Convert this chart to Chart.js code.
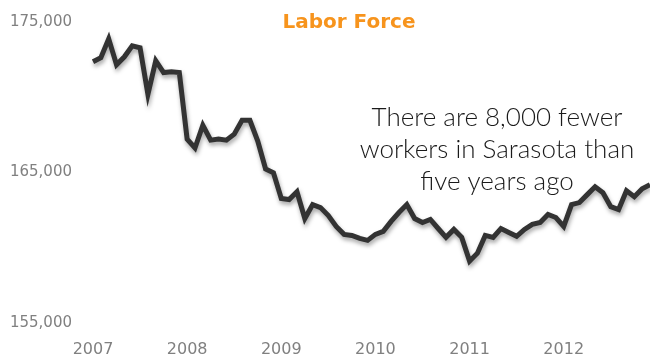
<!DOCTYPE html>
<html>
<head>
<meta charset="utf-8">
<script src="https://cdn.jsdelivr.net/npm/chart.js@4"></script>
<style>
  html, body { margin: 0; padding: 0; background: #fff; }
  #wrap { width: 650px; height: 356px; overflow: hidden; }
</style>
</head>
<body>
<div id="wrap"><canvas id="laborChart" width="650" height="356"></canvas></div>
<script>
const years = ['2007', '2008', '2009', '2010', '2011', '2012'];
const yTicks = [155000, 165000, 175000];

// monthly labor force, Jan 2007 - Dec 2012 (thousands)
const laborForce = [
    172.36, 172.63, 173.88, 172.16, 172.69, 173.42, 173.29, 170.19, 172.43, 171.64, 171.70, 171.64,
    167.22, 166.63, 168.14, 167.15, 167.22, 167.15, 167.55, 168.47, 168.47, 167.09, 165.24, 164.98,
    163.27, 163.20, 163.72, 161.94, 162.87, 162.67, 162.14, 161.42, 160.89, 160.82, 160.62, 160.49,
    160.89, 161.09, 161.75, 162.34, 162.87, 161.94, 161.68, 161.88, 161.28, 160.69, 161.22, 160.69,
    159.11, 159.64, 160.82, 160.69, 161.28, 161.02, 160.76, 161.22, 161.55, 161.68, 162.21, 162.01,
    161.42, 162.87, 163.00, 163.53, 164.05, 163.66, 162.73, 162.54, 163.79, 163.39, 163.92, 164.19
];

const chartTitle = 'Labor Force';
const noteLines = ['There are 8,000 fewer', 'workers in Sarasota than', 'five years ago'];

const monthLabels = laborForce.map((v, i) => years[Math.floor(i / 12)] + '-' + String(i % 12 + 1).padStart(2, '0'));

const textPlugin = {
    id: 'textPlugin',
    afterDraw(chart) {
        const ctx = chart.ctx;
        ctx.save();
        ctx.textAlign = 'center';
        ctx.textBaseline = 'middle';
        ctx.fillStyle = '#F7941D';
        ctx.font = 'bold 20px "DejaVu Sans"';
        ctx.fillText(chartTitle, 349, 23);
        ctx.fillStyle = '#1a1a1a';
        ctx.font = '300 26px Lato';
        noteLines.forEach((line, i) => ctx.fillText(line, 497, 118 + i * 32));
        ctx.restore();
    }
};

const shadowPlugin = {
    id: 'shadowPlugin',
    beforeDatasetDraw(chart) {
        const ctx = chart.ctx;
        ctx.save();
        ctx.shadowColor = 'rgba(0,0,0,0.35)';
        ctx.shadowBlur = 4;
        ctx.shadowOffsetX = 1;
        ctx.shadowOffsetY = 3;
    },
    afterDatasetDraw(chart) {
        chart.ctx.restore();
    }
};

new Chart(document.getElementById('laborChart').getContext('2d'), {
    type: 'line',
    data: {
        labels: monthLabels,
        datasets: [{
            data: laborForce.map(v => v * 1000),
            borderColor: '#333333',
            borderWidth: 5,
            pointRadius: 0,
            tension: 0,
            borderJoinStyle: 'miter',
            clip: false
        }]
    },
    options: {
        responsive: false,
        animation: false,
        layout: { autoPadding: false, padding: { top: 12, right: -5, left: 0, bottom: 0 } },
        plugins: {
            legend: { display: false },
            tooltip: { enabled: false }
        },
        scales: {
            x: {
                grid: { display: false },
                border: { display: false },
                afterFit: axis => {
                    axis.height = 33;
                    axis.paddingLeft = 0;
                    axis.paddingRight = 0;
                },
                ticks: {
                    autoSkip: false,
                    maxRotation: 0,
                    padding: 9,
                    color: '#808080',
                    font: { family: 'DejaVu Sans', size: 16 },
                    callback: function (val, idx) {
                        return idx % 12 === 0 ? years[idx / 12] : '';
                    }
                }
            },
            y: {
                min: 155000,
                max: 175000,
                afterBuildTicks: axis => { axis.ticks = yTicks.map(v => ({ value: v })); },
                afterFit: axis => { axis.width = 93; },
                grid: { display: false },
                border: { display: false },
                ticks: {
                    padding: 13,
                    color: '#808080',
                    font: { family: 'DejaVu Sans', size: 15 },
                    callback: v => v.toLocaleString('en-US')
                }
            }
        }
    },
    plugins: [shadowPlugin, textPlugin]
});
</script>
</body>
</html>
